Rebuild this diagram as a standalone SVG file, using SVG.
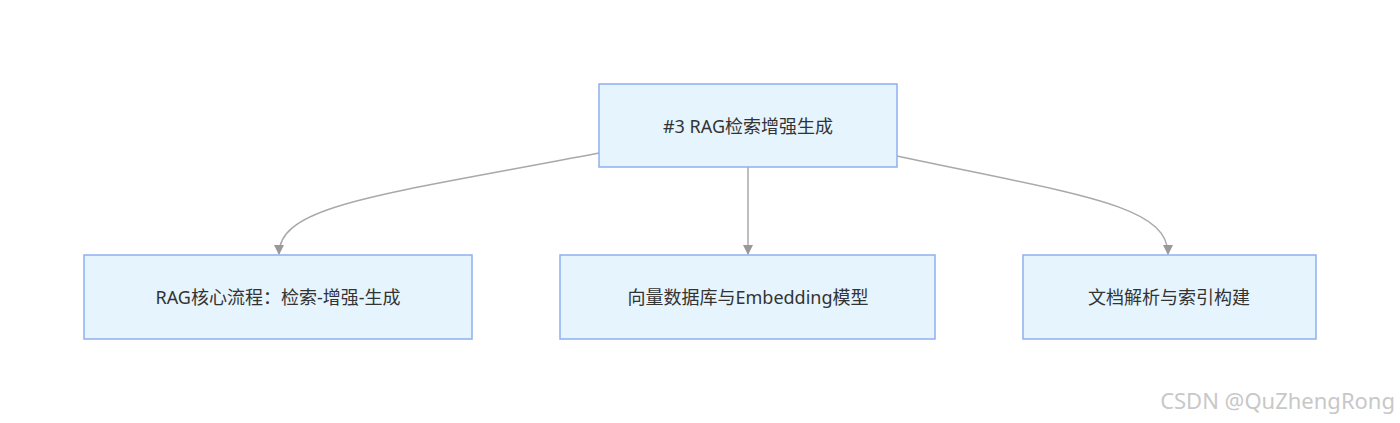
<svg xmlns="http://www.w3.org/2000/svg" width="1400" height="423" viewBox="0 0 1400 423">
<style>
.n rect{fill:#e6f4fd;stroke:#8fb0f0;stroke-width:1.5}
.n text{font-family:"Noto Sans","Noto Sans CJK SC",sans-serif;font-size:18px;fill:#333;text-anchor:middle;dominant-baseline:central}
.e path{fill:none;stroke:#a9a9a9;stroke-width:1.5;marker-end:url(#a)}
</style>
<defs><marker id="a" viewBox="0 0 10 10" refX="9" refY="5" markerWidth="7" markerHeight="7" orient="auto"><path d="M0,0L10,5L0,10z" fill="#999"/></marker></defs>
<rect width="1400" height="423" fill="#fff"/>
<g class="e">
<path d="M599,153 C380,195 279,205 279,254"/>
<path d="M748,167 L748,254"/>
<path d="M897,156 C1080,195 1168,205 1168,254"/>
</g>
<g id="n0" class="n"><rect x="599" y="84" width="298" height="83"/><text x="748" y="126">#3 RAG检索增强生成</text></g>
<g id="n1" class="n"><rect x="84" y="255" width="388" height="84"/><text x="278" y="297">RAG核心流程：检索-增强-生成</text></g>
<g id="n2" class="n"><rect x="560" y="255" width="375" height="84"/><text x="748" y="297">向量数据库与Embedding模型</text></g>
<g id="n3" class="n"><rect x="1023" y="255" width="293" height="84"/><text x="1169" y="297">文档解析与索引构建</text></g>
<text x="1395" y="400" text-anchor="end" font-family="Noto Sans,sans-serif" font-size="22" fill="#c8c8c8" dominant-baseline="central">CSDN @QuZhengRong</text>
</svg>
